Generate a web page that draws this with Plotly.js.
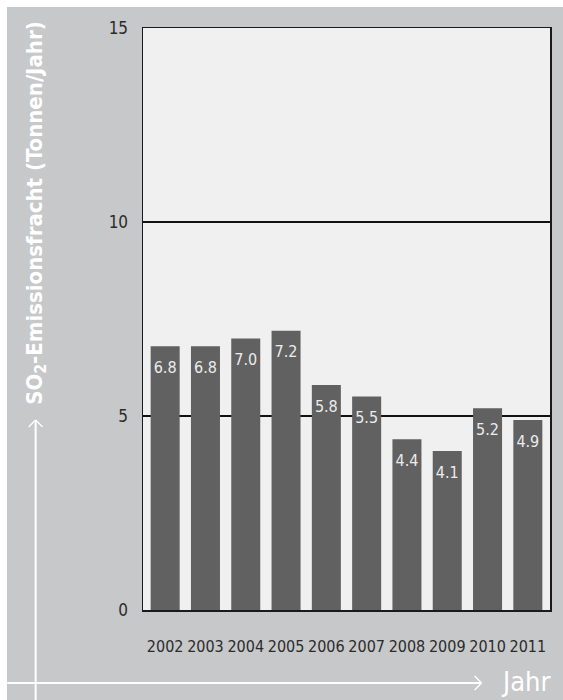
<!DOCTYPE html>
<html>
<head>
<meta charset="utf-8">
<script src="https://cdn.plot.ly/plotly-3.0.1.min.js"></script>
<style>
  html, body { margin: 0; padding: 0; background: #ffffff; width: 563px; height: 700px; overflow: hidden; }
  #chart { position: absolute; left: 7px; top: 7px; width: 556px; height: 693px; }
</style>
</head>
<body>
<div id="chart"></div>
<script>
// ---- data ----
const years = ["2002", "2003", "2004", "2005", "2006", "2007", "2008", "2009", "2010", "2011"];
const so2Values = [6.8, 6.8, 7.0, 7.2, 5.8, 5.5, 4.4, 4.1, 5.2, 4.9];
const yTickValues = [0, 5, 10, 15];
const yTitle = "SO<sub>2</sub>-Emissionsfracht (Tonnen/Jahr)";
const xTitle = "Jahr";

// ---- layout helpers ----
const FONT = "'DejaVu Sans Condensed', 'Liberation Sans Narrow', 'DejaVu Sans', sans-serif";
const W = 556, H = 693;
const M = { l: 136, r: 12.5, t: 21, b: 90 };
const PW = W - M.l - M.r, PH = H - M.t - M.b;
// convert page pixel coordinates to paper coordinates
function px(xImg) { return (xImg - 7 - M.l) / PW; }
function py(yImg) { return (H - M.b - (yImg - 7)) / PH; }

const white = "#ffffff";
function line(x0, y0, x1, y1, w) {
  return { type: "line", xref: "paper", yref: "paper", x0: px(x0), y0: py(y0), x1: px(x1), y1: py(y1),
           line: { color: white, width: w }, layer: "above" };
}

const shapes = [
  // horizontal arrow (x direction)
  line(7, 683, 482, 683, 2),
  line(482, 683, 475, 676, 1.3),
  line(482, 683, 475, 690, 1.3),
  // vertical arrow (y direction)
  line(35.5, 700, 35.5, 420, 2),
  line(35.5, 420, 28.5, 427, 1.3),
  line(35.5, 420, 42.5, 427, 1.3)
];

const annotations = [
  {
    text: yTitle, xref: "paper", yref: "paper", x: px(36), y: py(213.5),
    xanchor: "center", yanchor: "middle", textangle: -90, showarrow: false,
    font: { family: FONT, size: 22, color: white, weight: "bold" }
  },
  {
    text: xTitle, xref: "paper", yref: "paper", x: px(526), y: py(681),
    xanchor: "center", yanchor: "middle", showarrow: false,
    font: { family: FONT, size: 27, color: white }
  }
];

const bars = {
  type: "bar",
  x: years,
  y: so2Values,
  width: 0.72,
  marker: { color: "#616161", line: { width: 0 } },
  hoverinfo: "x+y"
};

const labels = {
  type: "scatter",
  mode: "markers+text",
  x: years,
  y: so2Values,
  text: so2Values.map(v => v.toFixed(1)),
  textposition: "bottom center",
  marker: { size: 22, opacity: 0 },
  textfont: { family: FONT, size: 16, color: "#ececec" },
  cliponaxis: false,
  hoverinfo: "skip"
};

const layout = {
  width: W, height: H,
  margin: M,
  paper_bgcolor: "#c7c8ca",
  plot_bgcolor: "#eff0ef",
  showlegend: false,
  font: { family: FONT, color: "#333333" },
  xaxis: {
    type: "category",
    range: [-0.55, 9.55],
    showgrid: false,
    showline: true, linecolor: "#1a1a1a", linewidth: 1.5, mirror: true,
    ticks: "", ticklabelstandoff: 21, tickangle: 0,
    tickfont: { family: FONT, size: 16, color: "#2b2b2b" },
    zeroline: false
  },
  yaxis: {
    range: [0, 15],
    tickvals: yTickValues,
    ticktext: yTickValues.map(String),
    showgrid: true, gridcolor: "#111111", gridwidth: 1.2,
    showline: true, linecolor: "#1a1a1a", linewidth: 1.5, mirror: true,
    ticks: "", ticklabelstandoff: 10,
    tickfont: { family: FONT, size: 17, color: "#2b2b2b" },
    zeroline: false
  },
  shapes: shapes,
  annotations: annotations
};

Plotly.newPlot("chart", [bars, labels], layout, { displayModeBar: false, staticPlot: true });
</script>
</body>
</html>
